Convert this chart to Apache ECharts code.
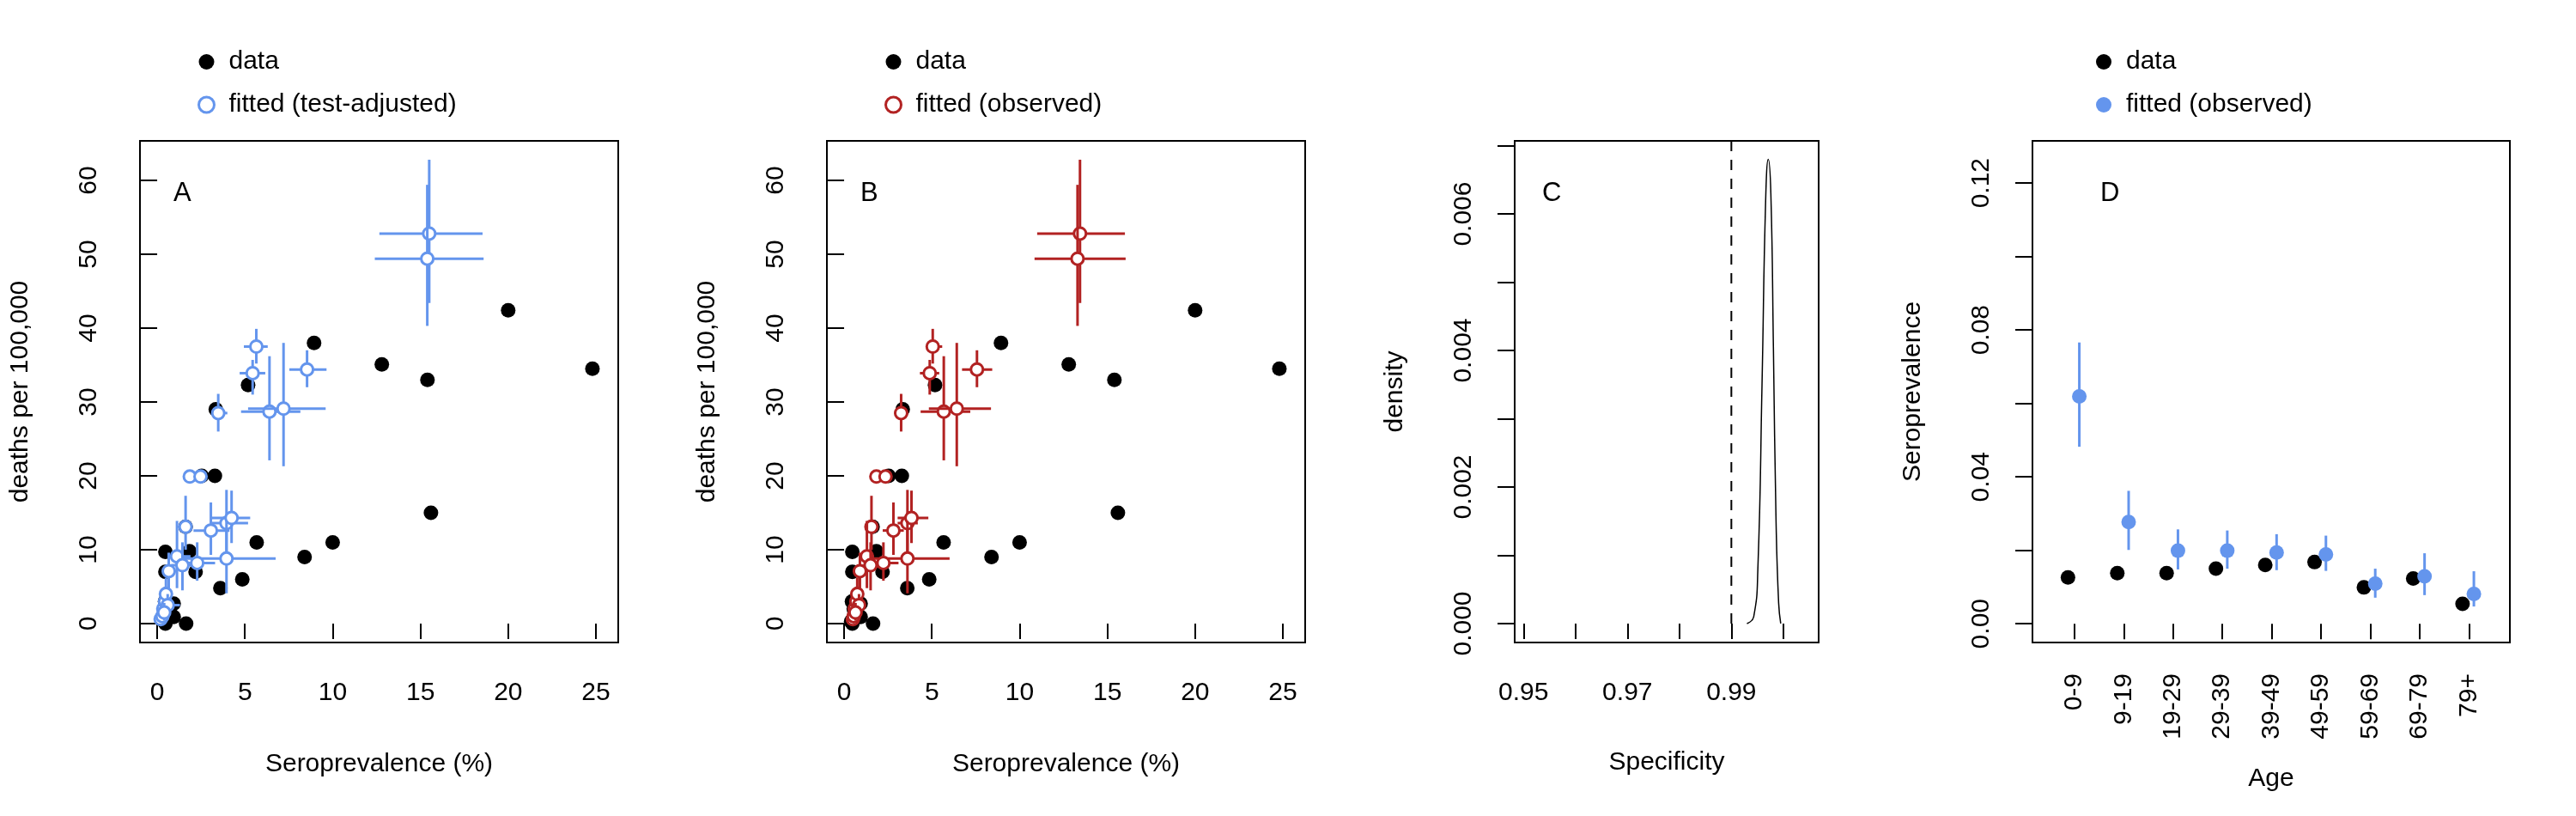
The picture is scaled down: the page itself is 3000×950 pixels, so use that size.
<!DOCTYPE html>
<html><head><meta charset="utf-8">
<script src="https://cdn.jsdelivr.net/npm/echarts@6/dist/echarts.min.js"></script>
<style>html,body{margin:0;padding:0;background:#fff}#c{width:3000px;height:950px}</style>
</head><body><div id="c"></div>
<script>
// Observed data (panels A & B): seroprevalence (%), deaths per 100,000
const dataX = [0.47,0.47,1.65,0.47,0.94,0.94,1.84,2.19,1.62,2.54,3.29,3.34,5.18,3.6,4.85,5.67,8.4,10.0,8.94,12.8,15.4,20.0,24.8,15.6,0.4,0.5,0.6,0.8,0.45,0.55,0.7];
const dataY = [9.7,7.0,0,0,0.9,2.7,9.8,7.0,13.1,20,20,29,32.3,4.8,6.0,11.0,9.0,11.0,38.0,35.1,33.0,42.4,34.5,15.0,0.3,0.6,1.5,1.2,3.0,2.0,2.2];
// Fitted values (shared y with error ranges)
const fitY  = [52.8,49.4,37.5,33.9,34.4,28.7,29.1,28.5,19.9,19.9,13.1,12.6,13.6,14.3,8.8,9.1,7.9,8.2,7.1,0.6,1.0,2.0,3.0,4.0,2.5,1.5];
const fitYlo= [43.4,40.3,35.2,31.0,32.0,22.1,21.3,26.0,19.0,19.0,10.0,9.3,9.7,10.9,4.1,4.8,4.5,5.8,4.6,0.0,0.1,0.8,1.5,2.3,1.2,0.4];
const fitYhi= [62.8,59.4,39.9,35.7,37.0,36.2,38.0,31.1,20.8,20.8,17.3,16.4,18.1,18.0,13.9,13.9,11.0,11.0,9.6,1.6,2.3,3.6,5.0,6.2,4.0,2.8];
// Panel A: test-adjusted seroprevalence
const adjX  = [15.5,15.39,5.65,5.44,8.54,6.4,7.2,3.48,1.86,2.47,1.62,3.06,3.95,4.24,3.95,1.13,1.44,2.28,0.66,0.2,0.3,0.35,0.45,0.5,0.6,0.4];
const adjXlo= [12.66,12.4,4.94,4.7,7.53,4.78,5.18,3.18,1.6,2.2,1.2,2.07,3.06,3.1,1.41,0.6,0.8,1.75,0.3,0.05,0.1,0.15,0.2,0.25,0.35,0.2];
const adjXhi= [18.54,18.6,6.3,6.16,9.65,8.16,9.6,4.0,2.1,2.75,2.0,4.12,5.18,5.3,6.75,1.9,2.1,3.3,1.1,0.4,0.5,0.6,0.7,0.8,1.3,0.6];
// Panel B: observed seroprevalence
const obsX  = [13.44,13.3,5.05,4.88,7.57,5.68,6.42,3.25,1.84,2.36,1.56,2.81,3.61,3.84,3.61,1.3,1.51,2.24,0.9,0.5,0.55,0.6,0.7,0.75,0.85,0.65];
const obsXlo= [11.0,10.85,4.67,4.32,6.72,4.36,4.83,2.95,1.6,2.1,1.25,2.2,3.05,3.05,1.3,0.9,1.1,1.8,0.6,0.4,0.45,0.5,0.55,0.6,0.65,0.5];
const obsXhi= [16.0,16.04,5.59,5.42,8.44,7.19,8.37,3.6,2.1,2.65,1.9,3.4,4.2,4.8,6.01,1.7,2.0,3.1,1.25,0.65,0.7,0.75,0.85,0.95,1.2,0.8];
// Panel C: specificity posterior density
const specX = [0.9930,0.9943,0.9951,0.9959,0.9966,0.9971,0.9976,0.9981,0.9986,0.9991,0.9995];
const specY = [0,0.0001,0.0008,0.0035,0.0062,0.0068,0.0063,0.0040,0.0015,0.0003,0];
// Panel D: age groups
const ageCats = ['0-9','9-19','19-29','29-39','39-49','49-59','59-69','69-79','79+'];
const ageData = [0.0126,0.0138,0.0138,0.0150,0.0160,0.0168,0.0099,0.0123,0.0054];
const ageFit  = [0.0619,0.0277,0.0199,0.0199,0.0194,0.0189,0.0109,0.0129,0.0081];
const ageLo   = [0.0482,0.0201,0.0148,0.0150,0.0146,0.0144,0.0071,0.0078,0.0047];
const ageHi   = [0.0766,0.0362,0.0257,0.0254,0.0244,0.0240,0.0150,0.0192,0.0143];

const BLUE='#6495ED', RED='#B22222', FONT='Liberation Sans', FS=30;
const chart = echarts.init(document.getElementById('c'));

function errSeries(name, idx, xs, xlo, xhi, color, filled){
  const d = xs.map((x,i)=> [x, fitY[i], xlo[i], xhi[i], fitYlo[i], fitYhi[i]]);
  return {
    type:'custom', name, xAxisIndex:idx, yAxisIndex:idx, z:5,
    data: d,
    renderItem(params, api){
      const p=api.coord([api.value(0),api.value(1)]);
      const a=api.coord([api.value(2),api.value(1)]), b=api.coord([api.value(3),api.value(1)]);
      const c=api.coord([api.value(0),api.value(4)]), e=api.coord([api.value(0),api.value(5)]);
      const st={stroke:color,lineWidth:3};
      return {type:'group',children:[
        {type:'line',shape:{x1:a[0],y1:a[1],x2:b[0],y2:b[1]},style:st},
        {type:'line',shape:{x1:c[0],y1:c[1],x2:e[0],y2:e[1]},style:st},
        {type:'circle',shape:{cx:p[0],cy:p[1],r:7},style:{fill:filled?color:'#fff',stroke:color,lineWidth:3}}
      ]};
    },
    encode:{x:[0,2,3],y:[1,4,5]}
  };
}

function baseX(idx, min, max, ticks, labels, name, gap){
  return {gridIndex:idx,type:'value',min,max,name,nameLocation:'middle',nameGap:gap,
    nameTextStyle:{fontFamily:FONT,fontSize:FS,color:'#000'},
    splitLine:{show:false},axisLine:{show:false},
    axisTick:{show:true,length:18,inside:false,lineStyle:{color:'#000',width:2},customValues:ticks},
    axisLabel:{fontFamily:FONT,fontSize:FS,color:'#000',margin:44,customValues:labels}};
}
function baseY(idx, min, max, ticks, labels, name, fmt){
  return {gridIndex:idx,type:'value',min,max,name,nameLocation:'middle',nameGap:124,
    nameTextStyle:{fontFamily:FONT,fontSize:FS,color:'#000'},
    splitLine:{show:false},axisLine:{show:false},
    axisTick:{show:true,length:20,lineStyle:{color:'#000',width:2},customValues:ticks},
    axisLabel:{fontFamily:FONT,fontSize:FS,color:'#000',margin:44,rotate:90,customValues:labels,formatter:fmt,align:'center',verticalAlign:'bottom'}};
}
const gridStyle={show:true,borderColor:'#000',borderWidth:2,backgroundColor:'transparent'};
const xT=[0,5,10,15,20,25], yT=[0,10,20,30,40,50,60];
const legText={fontFamily:FONT,fontSize:FS,color:'#000',padding:[0,0,0,12]};

const option={
  animation:false, backgroundColor:'#fff',
  grid:[
    Object.assign({left:163,top:164,width:557,height:584},gridStyle),
    Object.assign({left:963,top:164,width:557,height:584},gridStyle),
    Object.assign({left:1764,top:164,width:354,height:584},gridStyle),
    Object.assign({left:2367,top:164,width:556,height:584},gridStyle)
  ],
  xAxis:[
    baseX(0,-0.98,26.27,xT,xT,'Seroprevalence (%)',127),
    baseX(1,-0.98,26.27,xT,xT,'Seroprevalence (%)',127),
    baseX(2,0.9483,1.0068,[0.95,0.96,0.97,0.98,0.99,1.0],[0.95,0.97,0.99],'Specificity',125),
    baseX(3,0.15,9.83,[1,2,3,4,5,6,7,8,9],[1,2,3,4,5,6,7,8,9],'Age',144)
  ],
  yAxis:[
    baseY(0,-2.56,65.35,yT,yT,'deaths per 100,000'),
    baseY(1,-2.56,65.35,yT,yT,'deaths per 100,000'),
    baseY(2,-0.000277,0.00707,[0,0.001,0.002,0.003,0.004,0.005,0.006,0.007],[0,0.002,0.004,0.006],'density',v=>v.toFixed(3)),
    baseY(3,-0.0051,0.1315,[0,0.02,0.04,0.06,0.08,0.10,0.12],[0,0.04,0.08,0.12],'Seroprevalence',v=>v.toFixed(2))
  ],
  legend:[
    {left:225,top:52,orient:'vertical',itemGap:20,itemWidth:18,itemHeight:18,textStyle:legText,
     data:[{name:'data',icon:'circle',itemStyle:{color:'#000',borderWidth:0,opacity:1}},{name:'fitted (test-adjusted)',icon:'circle',itemStyle:{color:'#fff',borderColor:BLUE,borderWidth:3}}]},
    {left:1025,top:52,orient:'vertical',itemGap:20,itemWidth:18,itemHeight:18,textStyle:legText,
     data:[{name:'data',icon:'circle',itemStyle:{color:'#000',borderWidth:0,opacity:1}},{name:'fitted (observed)',icon:'circle',itemStyle:{color:'#fff',borderColor:RED,borderWidth:3}}]},
    {left:2436,top:52,orient:'vertical',itemGap:20,itemWidth:18,itemHeight:18,textStyle:legText,
     data:[{name:'data',icon:'circle',itemStyle:{color:'#000',borderWidth:0,opacity:1}},{name:'fitted (observed) ',icon:'circle',itemStyle:{color:BLUE,borderWidth:0}}]}
  ],
  graphic:[
    {type:'text',left:202,top:210,style:{text:'A',font:'31px "Liberation Sans"',fill:'#000'}},
    {type:'text',left:1002,top:210,style:{text:'B',font:'31px "Liberation Sans"',fill:'#000'}},
    {type:'text',left:1796,top:210,style:{text:'C',font:'31px "Liberation Sans"',fill:'#000'}},
    {type:'text',left:2446,top:210,style:{text:'D',font:'31px "Liberation Sans"',fill:'#000'}}
  ],
  series:[
    {type:'scatter',name:'data',xAxisIndex:0,yAxisIndex:0,symbolSize:17,itemStyle:{color:'#000',opacity:1},z:3,data:dataX.map((x,i)=>[x,dataY[i]])},
    errSeries('fitted (test-adjusted)',0,adjX,adjXlo,adjXhi,BLUE,false),
    {type:'scatter',name:'data',xAxisIndex:1,yAxisIndex:1,symbolSize:17,itemStyle:{color:'#000',opacity:1},z:3,data:dataX.map((x,i)=>[x,dataY[i]])},
    errSeries('fitted (observed)',1,obsX,obsXlo,obsXhi,RED,false),
    {type:'line',xAxisIndex:2,yAxisIndex:2,smooth:true,symbol:'none',lineStyle:{color:'#000',width:1.5},data:specX.map((x,i)=>[x,specY[i]])},
    {type:'line',xAxisIndex:2,yAxisIndex:2,symbol:'none',lineStyle:{color:'#000',width:2,type:[12,10]},data:[[0.99,0],[0.99,0.00707]]},
    {type:'scatter',name:'data',xAxisIndex:3,yAxisIndex:3,symbolSize:17,itemStyle:{color:'#000',opacity:1},data:ageData.map((v,i)=>[i+1-0.13,v])},
    {type:'custom',name:'fitted (observed) ',xAxisIndex:3,yAxisIndex:3,z:5,
     data:ageFit.map((v,i)=>[i+1+0.1,v,ageLo[i],ageHi[i]]),
     encode:{x:0,y:[1,2,3]},
     renderItem(params,api){
       const p=api.coord([api.value(0),api.value(1)]),a=api.coord([api.value(0),api.value(2)]),b=api.coord([api.value(0),api.value(3)]);
       return {type:'group',children:[
         {type:'line',shape:{x1:a[0],y1:a[1],x2:b[0],y2:b[1]},style:{stroke:BLUE,lineWidth:3}},
         {type:'circle',shape:{cx:p[0],cy:p[1],r:8.5},style:{fill:BLUE}}]};
     }}
  ]
};
option.xAxis[3].axisLabel.rotate=90;
option.xAxis[3].axisLabel.margin=36;
option.xAxis[3].axisLabel.formatter=v=>ageCats[Math.round(v)-1]||'';
chart.setOption(option);
</script></body></html>
